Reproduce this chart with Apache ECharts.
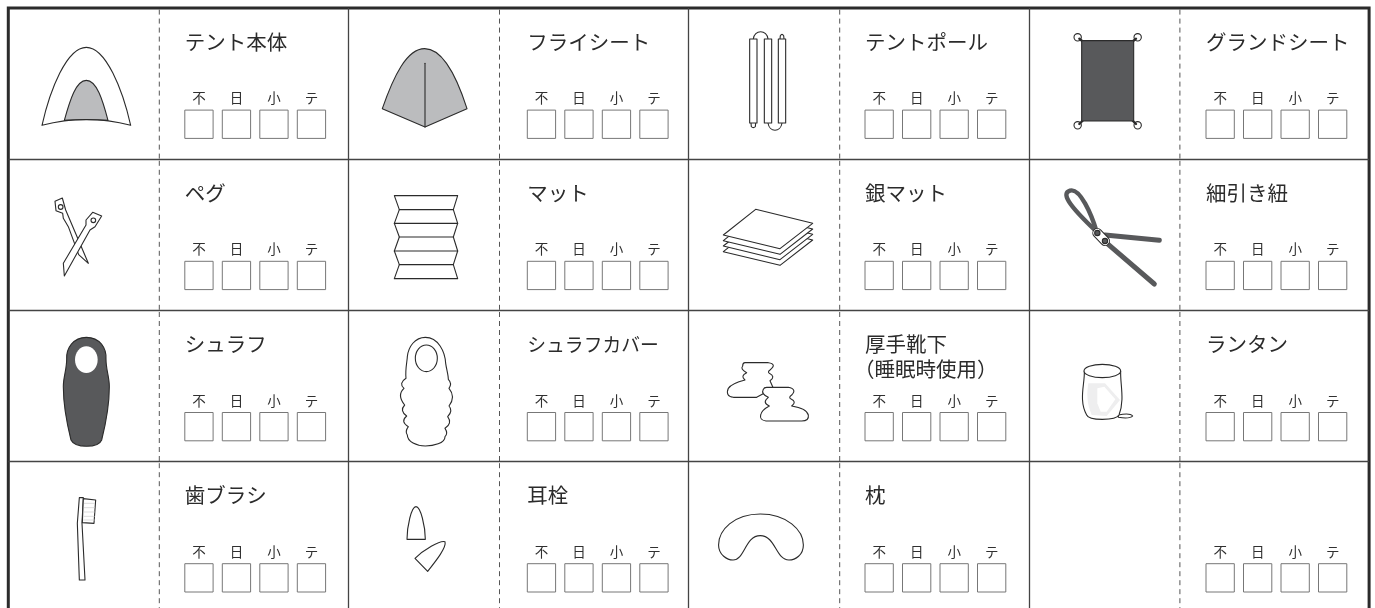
<!DOCTYPE html>
<html><head><meta charset="utf-8">
<style>html,body{margin:0;padding:0;background:#fff}#c{width:1375px;height:608px}</style>
<script src="https://cdn.jsdelivr.net/npm/echarts@6/dist/echarts.min.js"></script>
</head><body><div id="c"></div>
<script>
const itemNames = ['テント本体','フライシート','テントポール','グランドシート',
  'ペグ','マット','銀マット','細引き紐',
  'シュラフ','シュラフカバー','厚手靴下\n（睡眠時使用）','ランタン',
  '歯ブラシ','耳栓','枕',''];
const checkLabels = ['不','日','小','テ'];
const columnCount = 4, rowCount = 4;

const INK='#2b2b2b', DARK='#58595b', MID='#bbbcbe';
const FONT='"Noto Sans CJK JP"';
const columnPad=[176.5,178.8,176.3,177.1];
const boxStep=37.5, boxSize=28.3, boxTop=102, dashX=151;
const condensedTitleIndex=9;

function ell(cx,cy,rx,ry){const k=.5523;ry=ry||rx;
 return `M${cx-rx} ${cy} C${cx-rx} ${cy-k*ry} ${cx-k*rx} ${cy-ry} ${cx} ${cy-ry} C${cx+k*rx} ${cy-ry} ${cx+rx} ${cy-k*ry} ${cx+rx} ${cy} C${cx+rx} ${cy+k*ry} ${cx+k*rx} ${cy+ry} ${cx} ${cy+ry} C${cx-k*rx} ${cy+ry} ${cx-rx} ${cy+k*ry} ${cx-rx} ${cy} Z`;}

// Pictograms: outlines drawn in a 3x working grid, placed relative to their cell.
const icons = [
 {o:[-8.3,-8.1],p:[
  {d:'M126 376 C150 270 200 142 259 142 C318 142 368 270 392 376 C340 362 300 358 259 358 C218 358 178 362 126 376 Z'},
  {d:'M193 361 C210 300 228 241 259 241 C290 241 308 300 324 361 C300 358 218 358 193 361 Z',f:MID}]},
 {o:[1.5,-8.1],p:[
  {d:'M97 326 C130 230 170 146 224 146 C280 146 320 230 351 326 L225 381 Z',f:MID},
  {d:'M225 190 L225 381'}]},
 {o:[41.3,21.9],p:[
  {d:'M70 27 C72 -2 112 -2 114 27',f:'none'},
  {d:'M114 279 C118 308 152 308 156 279',f:'none'},
  {d:'M63 279 L64 290 Q70 296 76 290 L77 279',f:'none'},
  {d:'M150 27 L151 17 Q156 9 161 17 L162 27',f:'none'},
  {d:'M59 27 L81 27 L81 279 L59 279 Z'},{d:'M103 27 L125 27 L125 279 L103 279 Z'},{d:'M145 27 L167 27 L167 279 L145 279 Z'}]},
 {o:[-28.9,-8.1],p:[
  {d:ell(233,112,11)},{d:ell(413,112,11)},{d:ell(233,376,11)},{d:ell(413,376,11)},
  {d:'M238 116 L250 126',f:'none',w:2.4},{d:'M408 116 L396 126',f:'none',w:2.4},
  {d:'M238 372 L250 360',f:'none',w:2.4},{d:'M408 372 L396 360',f:'none',w:2.4},
  {d:'M245 122 L401 122 L401 363 L245 363 Z',f:DARK}]},
 {o:[-8.3,.7],p:[
  {d:'M165 124 L187 114 L197 150 L265 310 L236 284 L205 200 L190 175 L188 160 L168 152 Z'},
  {d:ell(182,141,7)},
  {d:'M278 157 L305 168 L285 200 L270 210 L193 348 L190 310 L258 195 L258 180 Z'},
  {d:ell(280,181,7)}]},
 {o:[1.5,.7],p:[
  {d:'M133 107 L323 107 L310 149 L323 190 L310 231 L323 273 L310 314 L323 356 L133 356 L148 314 L133 273 L148 231 L133 190 L148 149 Z'},
  {d:'M148 149 L310 149 M133 190 L323 190 M148 231 L310 231 M133 273 L323 273 M148 314 L310 314'}]},
 {o:[-338.7,.7],p:[
  {d:'M1217 198 L1388 240 L1290 316 L1120 275 Z'},
  {d:'M1217 181 L1388 223 L1290 299 L1120 258 Z'},
  {d:'M1217 165 L1388 207 L1290 283 L1120 242 Z'},
  {d:'M1217 148 L1388 190 L1290 266 L1120 225 Z'}]},
 {o:[-8.9,.7],p:[
  {d:'M230 215 C215 165 180 82 150 92 C125 100 140 130 230 215',f:'none',s:DARK,w:4.4},
  {d:'M255 225 L418 241',f:'none',s:DARK,w:5},
  {d:'M255 245 L403 372',f:'none',s:DARK,w:5},
  {d:'M232 219 L255 243',f:'none',s:INK,w:10},
  {d:'M232 219 L255 243',f:'none',s:'#fff',w:8},
  {d:ell(232,219,8),f:DARK},{d:ell(255,243,8),f:DARK}]},
 {o:[-8.3,9.5],p:[
  {d:'M259 52 C300 52 320 85 318 118 C318 150 328 170 328 200 C328 260 315 320 305 360 C295 385 225 385 213 360 C203 320 190 260 190 200 C190 170 200 150 200 118 C198 85 220 52 259 52 Z',f:DARK},
  {d:ell(259,119,34,40),s:'none'}]},
 {o:[-348.5,9.5],p:[
  {d:'M1276 52 C1315 52 1335 95 1337 130 C1340 150 1345 165 1345 178 Q1357 190 1347 205 Q1368 230 1347 258 Q1360 272 1343 290 Q1358 310 1335 325 Q1345 340 1335 350 C1335 370 1300 378 1276 378 C1250 378 1222 365 1222 345 Q1214 335 1225 320 Q1200 305 1220 288 Q1198 272 1214 255 Q1190 225 1212 205 Q1195 190 1218 175 C1215 150 1222 120 1222 110 C1225 80 1245 52 1276 52 Z'},
  {d:ell(1279,115,33,40)}]},
 {o:[1.3,9.5],p:[
  {d:'M165 128 L235 128 Q262 132 240 150 Q232 156 238 160 Q258 170 240 182 L250 205 L200 232 L130 232 Q105 228 115 205 Q125 190 165 180 Q150 168 170 158 Q150 148 158 138 Q158 128 165 128 Z'},
  {d:'M230 202 L295 202 Q322 208 305 225 Q295 232 302 236 Q322 245 305 258 Q350 265 355 285 Q358 303 335 303 L228 303 Q208 300 212 285 Q215 270 238 258 Q215 248 235 232 Q212 222 220 208 Q222 202 230 202 Z'}]},
 {o:[-338.9,9.5],p:[
  {d:'M1285 285 Q1320 278 1328 288 Q1320 297 1285 292 Z'},
  {d:'M1183 153 C1185 190 1165 240 1190 285 Q1195 298 1237 298 Q1280 298 1287 285 C1305 240 1290 190 1292 153 Z'},
  {d:'M1195 190 L1245 190 L1290 240 L1250 288 L1205 285 C1190 250 1190 220 1195 190 Z',f:'#eeeeef',s:'none'},
  {d:'M1222 205 L1243 200 L1276 238 L1250 275 L1232 275 L1222 250 Z',s:'none'},
  {d:ell(1237,153,55,20)}]},
 {o:[-8.3,-1.7],p:[
  {d:'M238 113 L250 113 L246 190 L255 360 L238 360 L232 190 Z'},
  {d:'M250 116 L287 120 Q284 160 282 190 L247 188 Z'},
  {d:'M253 130 L283 130 M253 143 L283 143 M252 156 L283 156 M252 169 L283 169 M251 180 L283 180',f:'none',s:'#cfcfcf',w:.7}]},
 {o:[-348.5,-1.7],p:[
  {d:'M1221 238 L1276 238 C1276 200 1262 140 1248 140 C1234 140 1221 200 1221 238 Z'},
  {d:'M1245 295 L1283 334 C1310 300 1340 262 1335 245 C1320 240 1270 270 1245 295 Z'}]},
 {o:[1.3,-1.7],sx:.4394,sy:1/3,p:[
  {d:'M160 162 C100 162 65 210 65 255 C65 285 85 300 98 300 C125 300 125 227 160 227 C195 227 195 300 225 300 C240 300 258 285 258 255 C258 210 220 162 160 162 Z'}]},
 null
];

function place(d,ic){const sx=ic.sx||1/3, sy=ic.sy||1/3; let i=0;
 return d.replace(/-?\d+(\.\d+)?/g,n=>{const k=i++%2;
  return k===0? (+n*sx+ic.o[0]).toFixed(2):(+n*sy+ic.o[1]).toFixed(2);});}

function renderCell(params,api){
 const col=api.value(0),row=api.value(1),idx=api.value(2);
 const o=api.coord([col,row]), h=api.coord([col,row+1])[1]-o[1];
 const pad=columnPad[col]; const ch=[];
 ch.push({type:'line',shape:{x1:dashX,y1:1.5,x2:dashX,y2:h},style:{stroke:'#555',lineWidth:1,lineDash:[5,4],fill:null}});
 const ic=icons[idx];
 if(ic) ic.p.forEach(pt=>ch.push({type:'path',shape:{pathData:place(pt.d,ic)},
   style:{fill:pt.f||'#fff',stroke:pt.s||INK,lineWidth:pt.w||1.1,lineCap:'round',lineJoin:'round'}}));
 const titleSize=idx===condensedTitleIndex?18.8:20.5;
 String(itemNames[idx]).split('\n').forEach((t,i)=>{ if(!t) return;
   ch.push({type:'text',style:{text:t,x:pad-(t[0]==='（'?11:0),y:34+i*25,font:titleSize+'px '+FONT,fill:'#2b2b2b',textAlign:'left',textVerticalAlign:'middle'}});});
 checkLabels.forEach((t,i)=>{
   const x=pad+i*boxStep;
   ch.push({type:'rect',shape:{x:x,y:boxTop,width:boxSize,height:boxSize},style:{fill:'#fff',stroke:'#777',lineWidth:1}});
   ch.push({type:'text',style:{text:t,x:x+boxSize/2,y:boxTop-12,font:'13.5px '+FONT,fill:'#303030',textAlign:'center',textVerticalAlign:'middle'}});
 });
 return {type:'group',x:o[0],y:o[1],children:ch};
}

const chart=echarts.init(document.getElementById('c'),null,{renderer:'canvas'});
const gridLine={show:true,showMinLine:false,showMaxLine:false,lineStyle:{color:'#444',width:1.3,type:'solid'}};
chart.setOption({
 animation:false,backgroundColor:'#fff',
 grid:{show:true,left:8.3,top:8.1,width:1360.8,height:604.8,containLabel:false,outerBoundsMode:'none',borderColor:'#2b2b2b',borderWidth:3,backgroundColor:'#fff'},
 xAxis:{type:'value',min:0,max:columnCount,interval:1,axisLine:{show:false},axisTick:{show:false},axisLabel:{show:false},splitLine:gridLine},
 yAxis:{type:'value',min:0,max:rowCount,interval:1,inverse:true,axisLine:{show:false},axisTick:{show:false},axisLabel:{show:false},splitLine:gridLine},
 tooltip:{show:false},
 series:[{type:'custom',coordinateSystem:'cartesian2d',clip:false,renderItem:renderCell,
  encode:{x:0,y:1},
  data:itemNames.map((n,i)=>[i%columnCount,Math.floor(i/columnCount),i])}]
});
</script></body></html>
